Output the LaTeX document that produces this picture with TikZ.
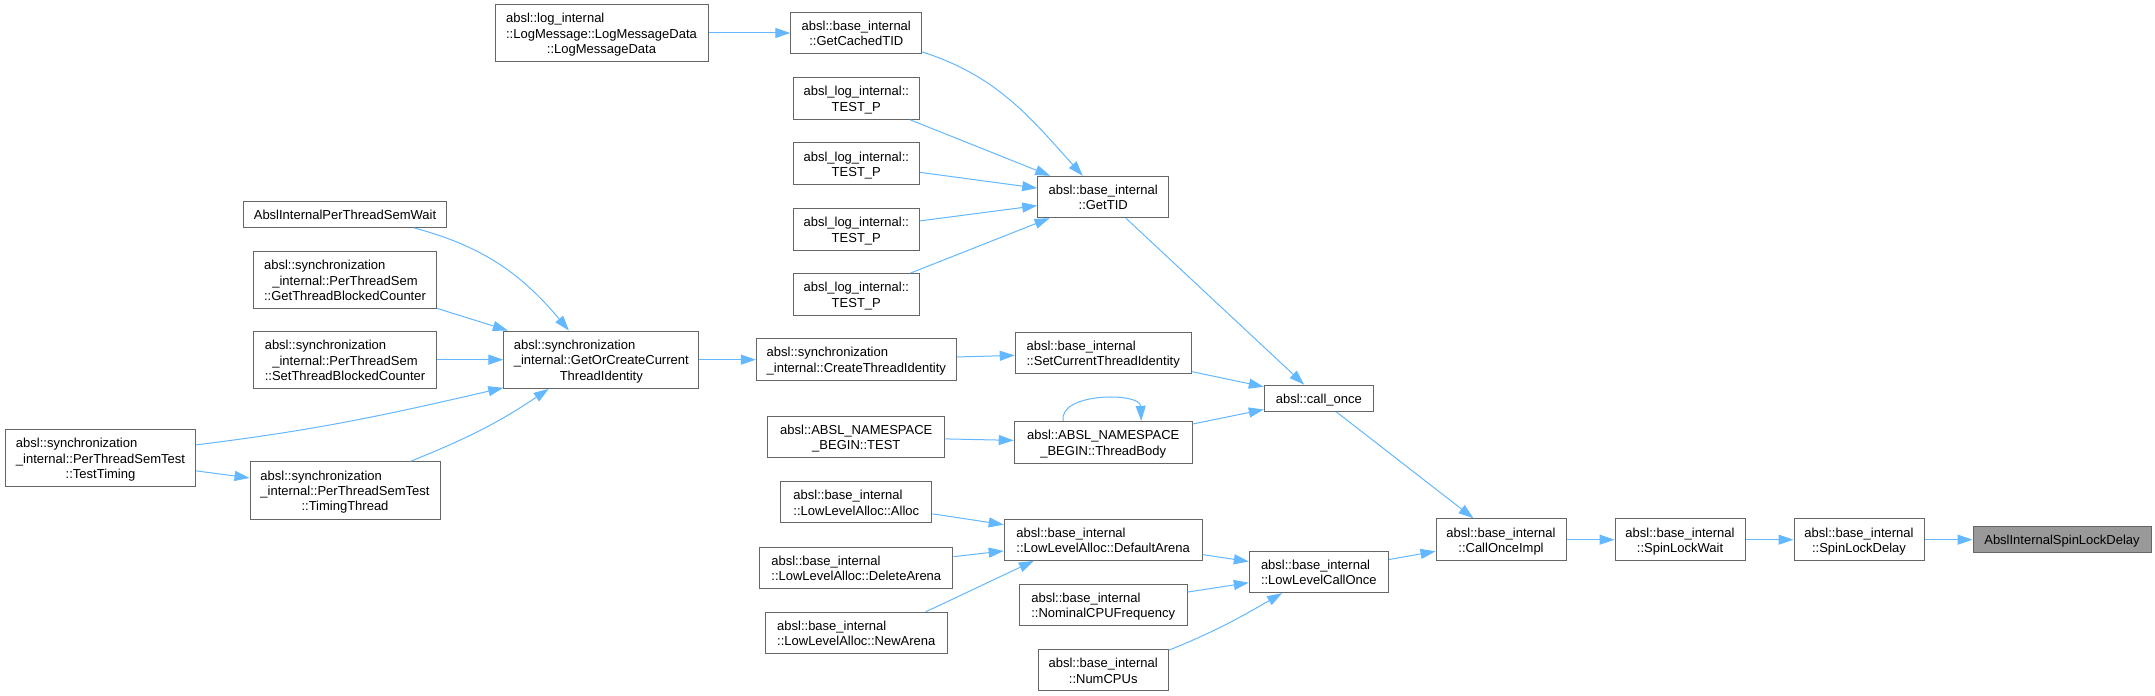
\documentclass[tikz,border=0pt]{standalone}
\usepackage{fontspec}
\setmainfont{Liberation Sans}
\usetikzlibrary{arrows.meta, positioning}
\definecolor{edgeblue}{HTML}{63B8FF}
\definecolor{boxgray}{HTML}{666666}
\definecolor{hilite}{HTML}{999999}
\newcommand{\fnfont}{\fontsize{13}{15}\selectfont\setbox\strutbox\hbox{\vrule height 12.8pt depth 2.2pt width 0pt}}
\newcommand{\fnl}[2]{\begin{tabular}{@{}c@{}}\multicolumn{1}{@{}l@{}}{#1}\\#2\end{tabular}}
\newcommand{\fns}[1]{\begin{tabular}{@{}c@{}}#1\end{tabular}}
\tikzset{
  fn/.style={draw=boxgray, line width=1pt, fill=white, inner xsep=0pt, inner ysep=5.5pt, minimum width=#1, font=\fnfont},
  call/.style={color=edgeblue, line width=1pt},
}

\begin{document}
\begin{tikzpicture}[x=1pt, y=1pt, node distance=48pt, >={Triangle[length=15pt, width=10pt]}]
    \fill[white] (0,0) rectangle (2155,696);
    \node[fn=213] (lmd) at (601.5,663) {\fnl{absl::log\_internal}{::LogMessage::LogMessageData\\::LogMessageData}};
    \node[fn=131] (gctid) at (856.3,663) {\fnl{absl::base\_internal}{::GetCachedTID}};
    \node[fn=126] (tp1) at (856.3,597.7) {\fnl{absl\_log\_internal::}{TEST\_P}};
    \node[fn=126] (tp2) at (856.3,532.2) {\fnl{absl\_log\_internal::}{TEST\_P}};
    \node[fn=126] (tp3) at (856.3,466.8) {\fnl{absl\_log\_internal::}{TEST\_P}};
    \node[fn=126] (tp4) at (856.3,401.5) {\fnl{absl\_log\_internal::}{TEST\_P}};
    \node[fn=131] (gettid) at (1103.2,499) {\fnl{absl::base\_internal}{::GetTID}};
    \node[fn=203] (semwait) at (345,481.5) {\fns{AbslInternalPerThreadSemWait}};
    \node[fn=183] (getblk) at (345,416.3) {\fnl{absl::synchronization}{\_internal::PerThreadSem\\::GetThreadBlockedCounter}};
    \node[fn=183] (setblk) at (345,336.3) {\fnl{absl::synchronization}{\_internal::PerThreadSem\\::SetThreadBlockedCounter}};
    \node[fn=195] (gocti) at (601.3,336.3) {\fnl{absl::synchronization}{\_internal::GetOrCreateCurrent\\ThreadIdentity}};
    \node[fn=190] (ttiming) at (100.5,237.7) {\fnl{absl::synchronization}{\_internal::PerThreadSemTest\\::TestTiming}};
    \node[fn=190] (tthread) at (345,205.5) {\fnl{absl::synchronization}{\_internal::PerThreadSemTest\\::TimingThread}};
    \node[fn=200] (cti) at (856.3,336.3) {\fnl{absl::synchronization}{\_internal::CreateThreadIdentity}};
    \node[fn=176] (scti) at (1103.2,343) {\fnl{absl::base\_internal}{::SetCurrentThreadIdentity}};
    \node[fn=109] (conce) at (1318.8,297.7) {\fns{absl::call\_once}};
    \node[fn=177] (nstest) at (856.3,259) {\fnl{absl::ABSL\_NAMESPACE}{\_BEGIN::TEST}};
    \node[fn=178] (tbody) at (1103.2,253.7) {\fnl{absl::ABSL\_NAMESPACE}{\_BEGIN::ThreadBody}};
    \node[fn=151] (alloc) at (856.3,193.7) {\fnl{absl::base\_internal}{::LowLevelAlloc::Alloc}};
    \node[fn=198] (defarena) at (1103.2,156.3) {\fnl{absl::base\_internal}{::LowLevelAlloc::DefaultArena}};
    \node[fn=193] (delarena) at (856.3,128.3) {\fnl{absl::base\_internal}{::LowLevelAlloc::DeleteArena}};
    \node[fn=182] (newarena) at (856.3,63) {\fnl{absl::base\_internal}{::LowLevelAlloc::NewArena}};
    \node[fn=139] (llco) at (1318.8,124) {\fnl{absl::base\_internal}{::LowLevelCallOnce}};
    \node[fn=168] (ncpu) at (1103.2,91) {\fnl{absl::base\_internal}{::NominalCPUFrequency}};
    \node[fn=130] (numcpus) at (1103.2,25.7) {\fnl{absl::base\_internal}{::NumCPUs}};
    \node[fn=130] (coimpl) at (1501,156.3) {\fnl{absl::base\_internal}{::CallOnceImpl}};
    \node[fn=130] (slwait) [right=of coimpl] {\fnl{absl::base\_internal}{::SpinLockWait}};
    \node[fn=130] (sldelay) [right=of slwait] {\fnl{absl::base\_internal}{::SpinLockDelay}};
    \node[fn=178, fill=hilite] (spin) [right=of sldelay] {\fns{AbslInternalSpinLockDelay}};
    \path[call, ->]
      (lmd) edge (gctid)
      (gctid.-16) edge[out=-18, in=132] (gettid.134)
      (tp1) edge (gettid)
      (tp2) edge (gettid)
      (tp3) edge (gettid)
      (tp4) edge (gettid)
      (gettid) edge (conce)
      (scti) edge (conce)
      (tbody) edge (conce)
      ([xshift=-40pt]tbody.north) edge[out=100, in=92, looseness=0.95] ([xshift=38pt]tbody.north)
      (semwait.-11) edge[out=-15, in=130] (gocti.138)
      (getblk) edge (gocti)
      (setblk) edge (gocti)
      (ttiming.8) edge[out=7, in=-167] (gocti.-164)
      (ttiming) edge (tthread)
      (tthread.24) edge[out=22, in=-146] (gocti.-151)
      (gocti) edge (cti)
      (cti) edge (scti)
      (nstest) edge (tbody)
      (alloc) edge (defarena)
      (delarena) edge (defarena)
      (newarena.17) edge[out=25, in=-155] (defarena.-163)
      (defarena) edge (llco)
      (ncpu) edge (llco)
      (numcpus.17) edge[out=22, in=-150] (llco.-150)
      (conce) edge (coimpl)
      (llco) edge (coimpl)
      (coimpl) edge (slwait)
      (slwait) edge (sldelay)
      (sldelay) edge (spin);
  \end{tikzpicture}
\end{document}
